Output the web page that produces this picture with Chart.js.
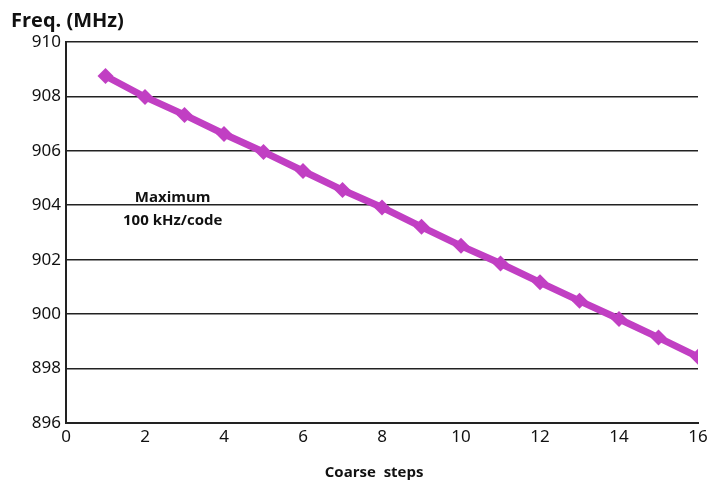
<!DOCTYPE html>
<html>
<head>
<meta charset="utf-8">
<script src="https://cdn.jsdelivr.net/npm/chart.js@4/dist/chart.umd.min.js"></script>
<style>
  html, body { margin: 0; padding: 0; background: #fff; }
  #wrap { width: 708px; height: 486px; position: relative; }
</style>
</head>
<body>
<div id="wrap"><canvas id="freqChart"></canvas></div>
<script>
// coarse tuning steps and measured frequency (MHz)
const steps = [1, 2, 3, 4, 5, 6, 7, 8, 9, 10, 11, 12, 13, 14, 15, 16];
const freqMHz = [908.75, 907.98, 907.32, 906.62, 905.96, 905.26, 904.56, 903.92,
                 903.21, 902.51, 901.86, 901.17, 900.49, 899.82, 899.14, 898.43];
const xTicks = [0, 2, 4, 6, 8, 10, 12, 14, 16];
const yTicks = [896, 898, 900, 902, 904, 906, 908, 910];
const noteLines = ['Maximum', '100 kHz/code'];

const lineColor = '#c13fc3';
const boldFont = '"Open Sans", "DejaVu Sans", sans-serif';

// extra text: y axis title, x axis title and the slope note
const labelsPlugin = {
    id: 'labels',
    afterDraw(chart) {
        const ctx = chart.ctx;
        const x = chart.scales.x;
        const y = chart.scales.y;
        ctx.save();
        ctx.fillStyle = '#111';
        ctx.textBaseline = 'middle';

        ctx.font = 'bold 20px ' + boldFont;
        ctx.textAlign = 'left';
        ctx.fillText('Freq. (MHz)', 11, 21);

        ctx.font = 'bold 15px ' + boldFont;
        ctx.textAlign = 'center';
        ctx.fillText('Coarse  steps', x.getPixelForValue(7.8), 473);

        ctx.fillText(noteLines[0], x.getPixelForValue(2.7), y.getPixelForValue(904.27));
        ctx.fillText(noteLines[1], x.getPixelForValue(2.7), y.getPixelForValue(903.43));
        ctx.restore();
    }
};

new Chart(document.getElementById('freqChart'), {
    type: 'scatter',
    data: {
        datasets: [{
            data: steps.map((s, i) => ({ x: s, y: freqMHz[i] })),
            showLine: true,
            borderColor: lineColor,
            backgroundColor: lineColor,
            borderWidth: 7,
            pointStyle: 'rectRot',
            pointRadius: 8,
            pointHoverRadius: 8,
            pointBorderWidth: 0
        }]
    },
    options: {
        responsive: true,
        maintainAspectRatio: false,
        animation: false,
        layout: { padding: { left: 0, top: 42, right: 0, bottom: 0 } },
        plugins: {
            legend: { display: false },
            tooltip: { enabled: false }
        },
        scales: {
            x: {
                type: 'linear',
                min: 0,
                max: 16,
                afterBuildTicks: (scale) => { scale.ticks = xTicks.map(v => ({ value: v })); },
                afterFit: (scale) => {
                    scale.height = 63;
                    scale.paddingRight = 10;
                },
                grid: { display: false, drawTicks: false },
                border: { color: '#222', width: 2 },
                ticks: {
                    color: '#111',
                    padding: 4,
                    maxRotation: 0,
                    font: { family: '"Noto Sans", "DejaVu Sans", sans-serif', size: 17 }
                }
            },
            y: {
                min: 896,
                max: 910,
                afterBuildTicks: (scale) => { scale.ticks = yTicks.map(v => ({ value: v })); },
                afterFit: (scale) => { scale.width = 66; },
                grid: { color: '#222', lineWidth: 1.6, drawTicks: false },
                border: { color: '#222', width: 2 },
                ticks: {
                    color: '#111',
                    padding: 5,
                    font: { family: '"Noto Sans", "DejaVu Sans", sans-serif', size: 17 }
                }
            }
        }
    },
    plugins: [labelsPlugin]
});
</script>
</body>
</html>
